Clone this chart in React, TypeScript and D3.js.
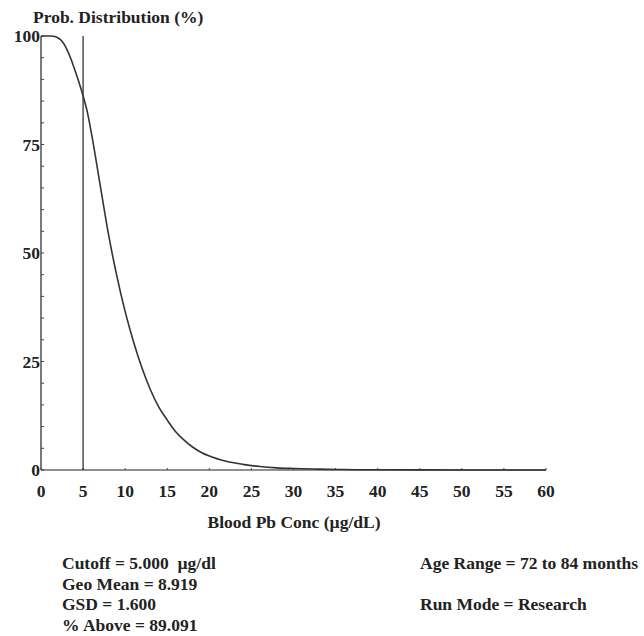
import React from 'react';
import * as d3 from 'd3';

const width = 644;
const height = 636;
const margin = { top: 36, left: 41, right: 98, bottom: 166 };

// blood Pb concentration (ug/dL) and % of children above it
const concValues = [0, 1, 1.5, 2, 2.5, 3, 3.5, 4, 4.5, 5, 5.5, 6, 7, 8, 9, 10, 11, 12, 13, 14, 15, 16, 17, 18, 19, 20, 22, 24, 26, 28, 30, 33, 36, 40, 45, 50, 55, 60];
const pctAbove = [100, 100, 99.95, 99.6, 98.8, 97.2, 95, 92.3, 89.4, 86.2, 82.5, 77.5, 66, 54.5, 44.8, 36.5, 29.5, 23.5, 18.5, 14.5, 11.5, 8.8, 6.9, 5.3, 4.1, 3.2, 2.0, 1.3, 0.8, 0.5, 0.35, 0.2, 0.1, 0.05, 0.02, 0.01, 0, 0];

const xTicks = [0, 5, 10, 15, 20, 25, 30, 35, 40, 45, 50, 55, 60];
const yTicks = [0, 25, 50, 75, 100];
const yMinorTicks = d3.range(0, 101, 5);
const cutoff = 5;

const leftNotes = ['Cutoff = 5.000  µg/dl', 'Geo Mean = 8.919', 'GSD = 1.600', '% Above = 89.091'];
const rightNotes = ['Age Range = 72 to 84 months', '', 'Run Mode = Research', ''];

const font = '"Liberation Serif", "Times New Roman", serif';
const fs = 17.5;

export default function App() {
  const x = d3.scaleLinear().domain([0, 60]).range([margin.left, width - margin.right]);
  const y = d3.scaleLinear().domain([0, 100]).range([height - margin.bottom, margin.top]);

  const line = d3
    .line<number>()
    .x((d, i) => x(concValues[i]))
    .y(d => y(d))
    .curve(d3.curveMonotoneX);

  const x0 = x(0);
  const yBase = y(0);

  return (
    <svg
      width={width}
      height={height}
      style={{ position: 'absolute', left: 0, top: 0, background: '#fff' }}
      fontFamily={font}
      fontWeight="bold"
    >
      <text x={33} y={23} fontSize={fs} fill="#222">
        Prob. Distribution (%)
      </text>

      {/* y axis */}
      <line x1={x0} x2={x0} y1={y(100)} y2={yBase} stroke="#222" strokeWidth={1.2} />
      {yMinorTicks.map(t => (
        <line key={'ym' + t} x1={x0} x2={x0 + 3} y1={y(t)} y2={y(t)} stroke="#444" />
      ))}
      {yTicks.map(t => (
        <text key={'y' + t} x={x0 - 1} y={y(t)} dy="0.35em" textAnchor="end" fontSize={fs} fill="#222">
          {t}
        </text>
      ))}

      {/* x axis */}
      <line x1={x0} x2={x(60)} y1={yBase} y2={yBase} stroke="#222" strokeWidth={1.2} />
      {xTicks.map(t => (
        <g key={'x' + t}>
          <line x1={x(t)} x2={x(t)} y1={yBase} y2={yBase - 2} stroke="#444" />
          <text x={x(t)} y={yBase + 27} textAnchor="middle" fontSize={fs} fill="#222">
            {t}
          </text>
        </g>
      ))}
      <text x={294} y={528} textAnchor="middle" fontSize={fs} fill="#222">
        Blood Pb Conc (µg/dL)
      </text>

      {/* cutoff */}
      <line x1={x(cutoff)} x2={x(cutoff)} y1={y(100)} y2={yBase} stroke="#222" strokeWidth={1.2} />

      <path d={line(pctAbove) || ''} fill="none" stroke="#333" strokeWidth={1.6} />

      {leftNotes.map((s, i) => (
        <text key={'l' + i} x={62} y={569 + i * 20.7} fontSize={fs} fill="#222" style={{ whiteSpace: 'pre' }}>
          {s}
        </text>
      ))}
      {rightNotes.map((s, i) =>
        s ? (
          <text key={'r' + i} x={420} y={569 + i * 20.7} fontSize={fs} fill="#222">
            {s}
          </text>
        ) : null
      )}
    </svg>
  );
}
